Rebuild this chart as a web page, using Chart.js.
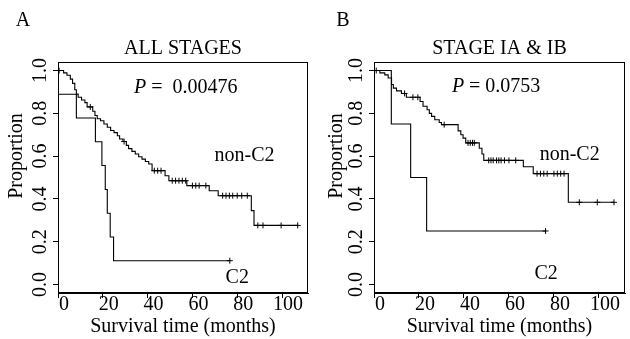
<!DOCTYPE html>
<html>
<head>
<meta charset="utf-8">
<script src="https://cdn.jsdelivr.net/npm/chart.js@4.4.1/dist/chart.umd.min.js"></script>
<style>
  body { margin:0; background:#fff; }
  #wrap { position:relative; width:630px; height:339px; }
  canvas { position:absolute; top:0; }
</style>
</head>
<body>
<div id="wrap">
  <canvas id="chartA" width="315" height="339" style="left:0"></canvas>
  <canvas id="chartB" width="314" height="339" style="left:316px"></canvas>
</div>
<script>
const SERIF = '"Liberation Serif", "Times New Roman", serif';

// axes
const xTicks = [0, 20, 40, 60, 80, 100];
const yTicks = [0, 0.2, 0.4, 0.6, 0.8, 1.0];

// A : all stages, non-C2 (event times, survival after event, censored times)
const allNonC2Time = [0, 2.5, 4, 5.5, 6.5, 7.5, 8.2, 9, 10.5, 12, 13, 15.5, 16.5, 17.5, 19, 20.5, 22, 23.5, 25, 26.5, 27.5, 29,
                      30.5, 31.5, 33, 34.5, 36, 37.5, 39, 40.5, 42, 47.8, 49.5, 57.5, 67.5, 71.5, 86.3, 87.5];
const allNonC2Surv = [1, 0.989, 0.978, 0.96, 0.94, 0.91, 0.89, 0.875, 0.862, 0.85, 0.83, 0.81, 0.79, 0.775, 0.765, 0.75, 0.735, 0.72, 0.71, 0.695, 0.68, 0.668,
                      0.65, 0.635, 0.622, 0.61, 0.597, 0.586, 0.575, 0.563, 0.532, 0.508, 0.485, 0.462, 0.438, 0.415, 0.345, 0.276];
const allNonC2Cens = [0.5, 14.4, 29.5, 43, 44.5, 46, 51, 52.5, 54, 55.5, 57, 60, 61.5, 63, 66, 73.5, 75, 76.5, 78, 80, 82, 84.5, 89.2, 91.5, 99.6, 107];
// A : all stages, C2
const allC2Time = [0, 8.2, 16.7, 19.6, 21.1, 22, 23.3, 24.8];
const allC2Surv = [0.889, 0.778, 0.667, 0.556, 0.444, 0.333, 0.222, 0.111];
const allC2Cens = [76.7];

// B : stage IA & IB, non-C2
const iabNonC2Time = [0, 2.6, 4.8, 6.3, 7.8, 8.6, 10, 12.2, 14.4, 20.5, 21.8, 23.6, 24.6, 25.6, 27, 29, 30, 37.4, 38.6, 39.6, 40.8, 46.8, 48, 48.8, 66.4, 70.8, 86.4];
const iabNonC2Surv = [1, 0.989, 0.98, 0.965, 0.935, 0.918, 0.905, 0.893, 0.875, 0.855, 0.833, 0.817, 0.80, 0.786, 0.77, 0.757, 0.747, 0.718, 0.70, 0.684, 0.662, 0.637, 0.61, 0.58, 0.55, 0.518, 0.384];
const iabNonC2Cens = [1, 13.6, 17.3, 19.5, 31.2, 41.8, 42.8, 43.8, 44.6, 51, 52, 53, 54.5, 55.5, 56.5, 58, 60, 63, 72.5, 74, 75.5, 77, 80, 81.5, 83, 84.5, 91.3, 99.3, 106.7];
// B : stage IA & IB, C2
const iabC2Time = [0, 7.7, 16.3, 23.4];
const iabC2Surv = [1, 0.75, 0.5, 0.25];
const iabC2Cens = [76.3];

function survAt(times, surv, t){
  let s = surv[0];
  for (let i=0;i<times.length;i++) if (times[i] <= t) s = surv[i];
  return s;
}
function kmLine(times, surv, cens){
  const pts = times.map((t,i)=>({x:t, y:surv[i]}));
  const end = Math.max(...cens);
  if (end > times[times.length-1]) pts.push({x:end, y:surv[surv.length-1]});
  return pts;
}
function kmMarks(times, surv, cens){
  return cens.map(t => ({x:t, y:survAt(times, surv, t)}));
}

// box round the plot + free texts
const notesPlugin = {
  id: 'notes',
  afterDraw(chart, args, opts){
    const {ctx, chartArea:a, scales:{x, y}} = chart;
    ctx.save();
    ctx.strokeStyle = '#000'; ctx.lineWidth = 1;
    ctx.strokeRect(Math.round(a.left)+0.5, Math.round(a.top)+0.5, Math.round(a.width)-1, Math.round(a.height)-1);
    ctx.fillStyle = '#000';
    ctx.textBaseline = 'middle';
    (opts.items||[]).forEach(n=>{
      const px = n.px !== undefined ? n.px : x.getPixelForValue(n.t);
      const py = n.py !== undefined ? n.py : y.getPixelForValue(n.s);
      ctx.save();
      ctx.translate(px, py);
      if (n.rotate) ctx.rotate(-Math.PI/2);
      const it = n.italic || '';
      ctx.font = 'italic 20px ' + SERIF;
      const w1 = it ? ctx.measureText(it).width : 0;
      ctx.font = '20px ' + SERIF;
      const w2 = ctx.measureText(n.text).width;
      let x0 = -(w1+w2)/2;
      ctx.textAlign = 'left';
      if (it){ ctx.font = 'italic 20px ' + SERIF; ctx.fillText(it, x0, 0); ctx.font = '20px ' + SERIF; }
      ctx.fillText(n.text, x0 + w1, 0);
      ctx.restore();
    });
    ctx.restore();
  }
};

function makePanel(id, title, rightPad, lines, notes){
  const datasets = [];
  lines.forEach(l=>{
    datasets.push({type:'line', data:kmLine(l.t, l.s, l.c), stepped:'before', borderColor:'#000',
                   borderWidth:1.1, pointRadius:0, fill:false, tension:0});
    datasets.push({type:'scatter', data:kmMarks(l.t, l.s, l.c), pointStyle:'cross', pointRadius:3,
                   borderColor:'#000', borderWidth:1, showLine:false});
  });
  const axisGrid = {display:true, drawOnChartArea:false, drawTicks:true, tickLength:5, color:'#000', lineWidth:1};
  return new Chart(document.getElementById(id), {
    data: {datasets},
    plugins: [notesPlugin],
    options: {
      responsive:false, animation:false,
      layout: {padding:{left:0, right:rightPad, top:0, bottom:0}},
      plugins: {
        legend:{display:false}, tooltip:{enabled:false},
        title:{display:true, text:title, fullSize:false, color:'#000',
               font:{family:SERIF, size:20, weight:'normal', lineHeight:1.2}, padding:{top:37, bottom:1}},
        notes:{items:notes}
      },
      scales: {
        x: {
          type:'linear', min:0, max:111.6,
          afterBuildTicks: s => { s.ticks = xTicks.map(v=>({value:v})); },
          afterFit: s => { s.height = 46; },
          grid: axisGrid, border:{display:true, color:'#000', width:1},
          ticks:{color:'#000', font:{family:SERIF, size:20, lineHeight:1}, padding:-3, labelOffset:6,
                 maxRotation:0, autoSkip:false},
          title:{display:true, text:'Survival time (months)', color:'#000',
                 font:{family:SERIF, size:20, lineHeight:1.2}, padding:{top:0, bottom:0}}
        },
        y: {
          type:'linear', min:-0.04, max:1.04,
          afterBuildTicks: s => { s.ticks = yTicks.map(v=>({value:v})); },
          afterFit: s => { s.width = 58; },
          grid: axisGrid, border:{display:true, color:'#000', width:1},
          ticks:{color:'#000', font:{family:SERIF, size:20, lineHeight:1.2}, padding:0,
                 minRotation:90, maxRotation:90, crossAlign:'center', callback: v => v.toFixed(1)}
        }
      }
    }
  });
}

makePanel('chartA', 'ALL STAGES', 7,
  [{t:allNonC2Time, s:allNonC2Surv, c:allNonC2Cens}, {t:allC2Time, s:allC2Surv, c:allC2Cens}],
  [{text:'A', px:23, py:21},
   {text:'Proportion', px:16.5, py:156, rotate:true},
   {italic:'P', text:' =  0.00476', t:57, s:0.92},
   {text:'non-C2', t:83.3, s:0.60},
   {text:'C2', t:80, s:0.03}]);

makePanel('chartB', 'STAGE IA & IB', 2,
  [{t:iabNonC2Time, s:iabNonC2Surv, c:iabNonC2Cens}, {t:iabC2Time, s:iabC2Surv, c:iabC2Cens}],
  [{text:'B', px:27, py:21},
   {text:'Proportion', px:20.5, py:156, rotate:true},
   {italic:'P', text:' = 0.0753', t:54.3, s:0.922},
   {text:'non-C2', t:87, s:0.608},
   {text:'C2', t:76.5, s:0.05}]);
</script>
</body>
</html>
